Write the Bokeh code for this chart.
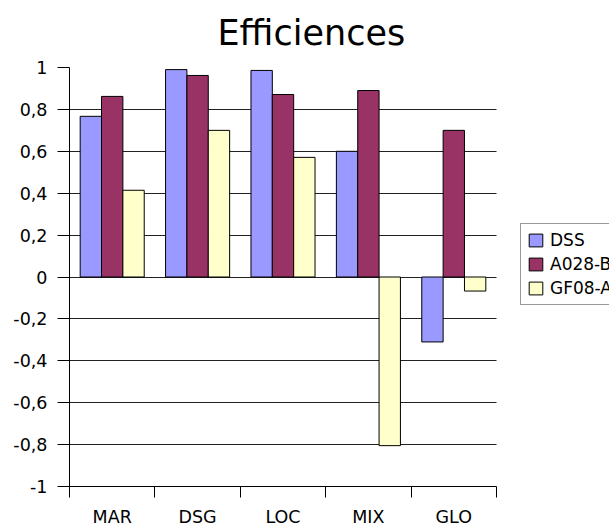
from bokeh.plotting import figure
from bokeh.models import (ColumnDataSource, Range1d, FixedTicker, CustomJSTickFormatter,
                          Legend, LegendItem, Title)
from bokeh.embed import file_html
from bokeh.resources import INLINE

categories = ["MAR", "DSG", "LOC", "MIX", "GLO"]
series_names = ["DSS", "A028-B", "GF08-A"]
dss = [0.767, 0.99, 0.986, 0.60, -0.31]
a028b = [0.862, 0.962, 0.871, 0.89, 0.70]
gf08a = [0.414, 0.70, 0.571, -0.805, -0.067]
colors = ["#9999ff", "#993366", "#ffffcc"]
y_ticks = [-1, -0.8, -0.6, -0.4, -0.2, 0, 0.2, 0.4, 0.6, 0.8, 1]

FONT = "DejaVu Sans"
n = len(categories)
# the plotting frame runs on to the right edge, so the legend can sit there
frame_w = 540.0
cat_px = 427.0 / n

p = figure(width=609, height=529, output_backend="svg", toolbar_location=None,
           x_range=Range1d(0, frame_w / cat_px), y_range=Range1d(-1, 1),
           min_border_left=69, min_border_right=0, min_border_top=67, min_border_bottom=42)
p.outline_line_color = None
p.background_fill_color = "white"
p.border_fill_color = "white"

p.add_layout(Title(text="Efficiences", text_font=FONT, text_font_size="35px",
                   text_font_style="normal", text_color="black", align="left",
                   vertical_align="top", offset=148, standoff=25), "above")

bar_w = 0.25
items = []
for i, (name, vals, col) in enumerate(zip(series_names, [dss, a028b, gf08a], colors)):
    xs = [k + 0.125 + bar_w * (i + 0.5) for k in range(n)]
    src = ColumnDataSource(dict(x=xs, top=vals))
    r = p.vbar(x="x", top="top", bottom=0, width=bar_w, source=src,
               fill_color=col, line_color="black", line_width=1)
    items.append(LegendItem(label=name, renderers=[r]))

# x axis: labels at centers, ticks at category boundaries
p.xaxis.bounds = (0, n)
p.xaxis.ticker = FixedTicker(ticks=[k + 0.5 for k in range(n)],
                             minor_ticks=list(range(n + 1)))
p.xaxis.major_label_overrides = {k + 0.5: c for k, c in enumerate(categories)}
p.xaxis.major_tick_line_color = None
p.xaxis.major_tick_out = 0
p.xaxis.minor_tick_line_color = "black"
p.xaxis.minor_tick_out = 11
p.xaxis.minor_tick_in = 0
p.xaxis.major_label_standoff = 9
p.xaxis.major_label_text_font = FONT
p.xaxis.major_label_text_font_size = "17.5px"
p.xaxis.major_label_text_color = "black"
p.xaxis.axis_line_color = "black"

p.yaxis.ticker = FixedTicker(ticks=y_ticks, minor_ticks=[])
p.yaxis.formatter = CustomJSTickFormatter(code="""
    var s = (Math.round(tick * 10) / 10).toString();
    return s.replace('.', ',');
""")
p.yaxis.major_tick_out = 12
p.yaxis.major_tick_in = 0
p.yaxis.major_tick_line_color = "black"
p.yaxis.axis_line_color = "black"
p.yaxis.major_label_standoff = 10
p.yaxis.major_label_text_font = FONT
p.yaxis.major_label_text_font_size = "17.5px"
p.yaxis.major_label_text_color = "black"

p.xgrid.grid_line_color = None
p.ygrid.ticker = FixedTicker(ticks=y_ticks)
p.ygrid.cross_bounds = (0, n)
p.ygrid.grid_line_color = "#222222"
p.ygrid.grid_line_width = 1

legend = Legend(items=items, location=(451, 181), orientation="vertical",
                label_text_font=FONT, label_text_font_size="17px",
                label_text_color="black", glyph_width=17, glyph_height=16,
                label_standoff=6, spacing=4, padding=6, margin=0,
                border_line_color="#333333", border_line_width=1,
                background_fill_color="white", background_fill_alpha=1)
p.add_layout(legend, "center")

open("out.html", "w").write(file_html(p, INLINE))
